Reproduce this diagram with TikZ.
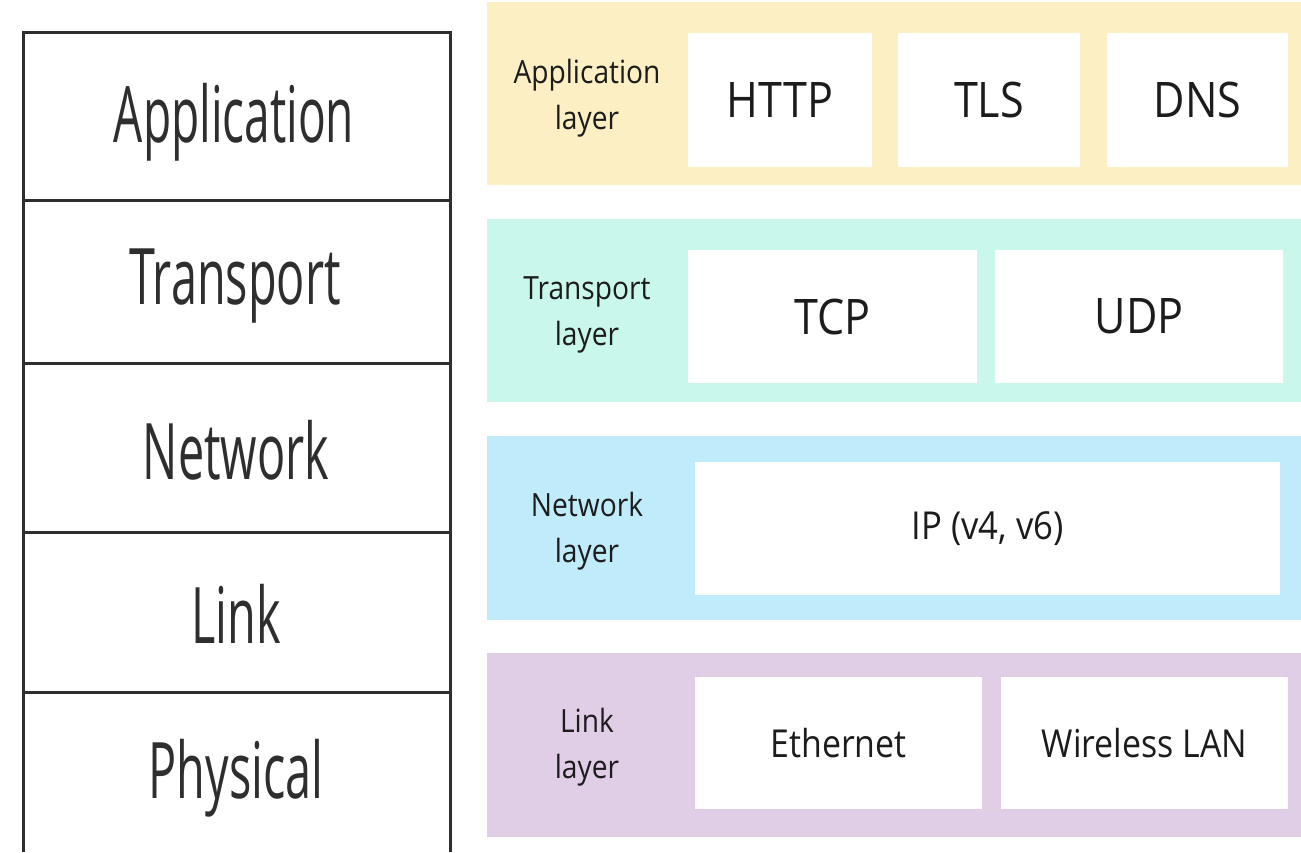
\documentclass[tikz,border=0pt]{standalone}
\usepackage{fontspec}
\setmainfont{Open Sans}
\usepackage{graphicx}
\definecolor{appc}{HTML}{FBEFC3}
\definecolor{trac}{HTML}{C9F7EC}
\definecolor{netc}{HTML}{C0EBFA}
\definecolor{linc}{HTML}{E0CEE6}
\definecolor{stk}{HTML}{2E2E2E}
\definecolor{txt}{HTML}{1C1C1C}
\newcommand\hs[2]{\scalebox{#1}[1]{#2}}
\newcommand\two[2]{\hs{0.88}{\begin{tabular}{@{}c@{}}#1\\#2\end{tabular}}}
\begin{document}
\begin{tikzpicture}[x=1pt,y=-1pt,
  stkline/.style={draw=stk, line width=3pt},
  stktext/.style={text=stk, inner sep=0pt, font=\fontsize{78}{90}\selectfont},
  band/.style={fill=#1, draw=none, inner sep=0pt, minimum width=814pt},
  pbox/.style={fill=white, draw=none, inner sep=0pt, text=txt},
  big/.style={font=\fontsize{49}{58}\selectfont},
  mid/.style={font=\fontsize{38.5}{46}\selectfont},
  lbl/.style={text=txt, inner sep=0pt, font=\fontsize{32}{46}\selectfont},
]
\useasboundingbox (0,0) rectangle (1301,852);
\fill[white] (0,0) rectangle (1301,852);

% ---- left stack ----
\draw[stkline] (23,852) -- (23,32) -- (450,32) -- (450,852);
\draw[stkline] (23,200) -- (450,200);
\draw[stkline] (23,363) -- (450,363);
\draw[stkline] (23,532) -- (450,532);
\draw[stkline] (23,692) -- (450,692);
\node[stktext] (sApp) at (234,122) {\hs{0.59}{Application}};
\node[stktext] (sTra) at (235,286) {\hs{0.6}{Transport}};
\node[stktext] (sNet) at (236,450) {\hs{0.6}{Network}};
\node[stktext] (sLin) at (236,614) {\hs{0.6}{Link}};
\node[stktext] (sPhy) at (236,778) {\hs{0.6}{Physical}};

% ---- application band ----
\node[band=appc, minimum height=183pt] (bApp) at (894,93.5) {};
\node[lbl] (lApp) at (587,97) {\two{Application}{layer}};
\node[pbox, big, minimum width=184pt, minimum height=134pt] (http) at (780,100) {\hs{0.88}{HTTP}};
\node[pbox, big, minimum width=182pt, minimum height=134pt] (tls) at (989,100) {\hs{0.88}{TLS}};
\node[pbox, big, minimum width=181pt, minimum height=134pt] (dns) at (1197.5,100) {\hs{0.88}{DNS}};

% ---- transport band ----
\node[band=trac, minimum height=183pt] (bTra) at (894,310.5) {};
\node[lbl] (lTra) at (587,313) {\two{Transport}{layer}};
\node[pbox, big, minimum width=289pt, minimum height=133pt] (tcp) at (832.5,316.5) {\hs{0.88}{TCP}};
\node[pbox, big, minimum width=288pt, minimum height=133pt] (udp) at (1139,316.5) {\hs{0.88}{UDP}};

% ---- network band ----
\node[band=netc, minimum height=184pt] (bNet) at (894,528) {};
\node[lbl] (lNet) at (587,530) {\two{Network}{layer}};
\node[pbox, mid, minimum width=585pt, minimum height=133pt] (ip) at (987.5,528.5) {\hs{0.9}{IP (v4, v6)}};

% ---- link band ----
\node[band=linc, minimum height=184pt] (bLin) at (894,745) {};
\node[lbl] (lLin) at (587,746) {\two{Link}{layer}};
\node[pbox, mid, minimum width=287pt, minimum height=132pt] (eth) at (838.5,743) {\hs{0.88}{Ethernet}};
\node[pbox, mid, minimum width=287pt, minimum height=132pt] (wlan) at (1144.5,743) {\hs{0.88}{Wireless LAN}};
\end{tikzpicture}
\end{document}
